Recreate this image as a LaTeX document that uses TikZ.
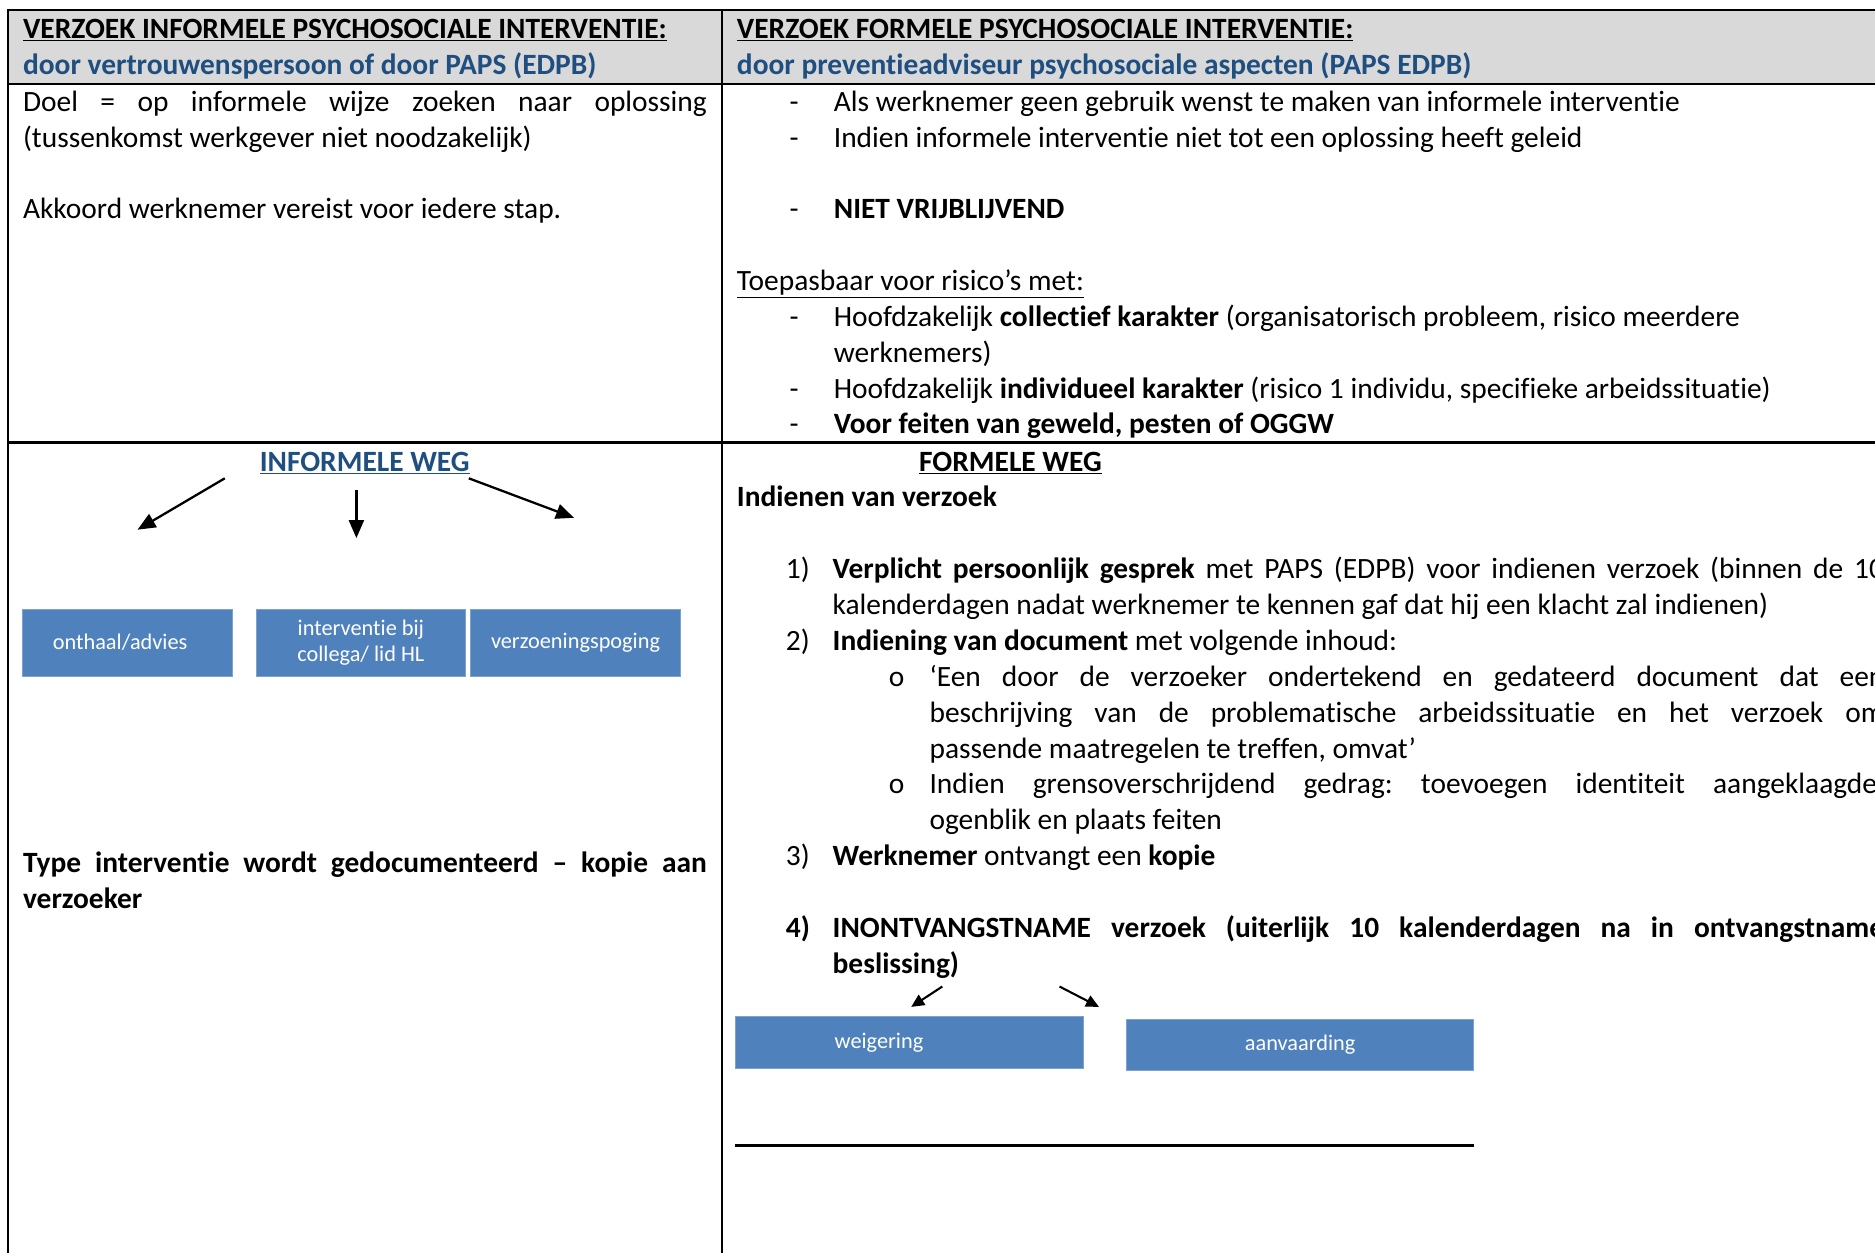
\documentclass[tikz,border=0pt]{standalone}
\usepackage{fontspec}
\setmainfont{Carlito}[Ligatures={TeX,NoCommon}]
\usetikzlibrary{arrows.meta}
\frenchspacing

\definecolor{kopgrijs}{RGB}{217,217,217}
\definecolor{kopblauw}{RGB}{31,78,128}
\definecolor{vakblauw}{RGB}{79,129,189}
\definecolor{vakrand}{RGB}{125,162,208}
\newcommand{\tekstfont}{\fontsize{16.75}{20}\selectfont}
\newcommand{\vakfont}{\fontsize{12.7}{15}\selectfont}

\begin{document}
\begin{tikzpicture}[x=0.02cm, y=-0.02cm,
  regel/.style={anchor=base west, inner sep=0pt, font=\tekstfont},
  midden/.style={anchor=base, inner sep=0pt, font=\tekstfont\bfseries},
  vak/.style={anchor=north west, fill=vakblauw, draw=vakrand, line width=0.4pt, text=white, font=\vakfont, align=center, inner sep=0pt},
  pijl/.style={-{Triangle[length=0.36cm, width=0.3cm]}, line width=1.3pt},
  pijltje/.style={-{Triangle[length=0.26cm, width=0.24cm]}, line width=1.2pt},
  rand/.style={line width=1.2pt}]
\useasboundingbox (0,0) rectangle (1875,1252);
\clip (0,0) rectangle (1875,1252);

% kop van de tabel
\fill[kopgrijs] (8.4,9.6) rectangle (1890,83.7);
\draw[rand] (1890,9.6) -- (8.4,9.6) -- (8.4,1270);
\draw[rand] (8.4,83.7) -- (1890,83.7);
\draw[rand] (8.4,442.5) -- (1890,442.5);
\draw[rand] (722.3,9.6) -- (722.3,1270);

\node[regel] (kopL1) at (22.7,38) {\bfseries\underline{VERZOEK INFORMELE PSYCHOSOCIALE INTERVENTIE:}};
\node[regel, text=kopblauw] (kopL2) at (22.7,74) {\bfseries door vertrouwenspersoon of door PAPS (EDPB)};
\node[regel] (kopR1) at (736.6,38) {\bfseries\underline{VERZOEK FORMELE PSYCHOSOCIALE INTERVENTIE:}};
\node[regel, text=kopblauw] (kopR2) at (736.6,74) {\bfseries door preventieadviseur psychosociale aspecten (PAPS EDPB)};

% eerste rij, links
\node[regel] (doel1) at (22.7,111) {\makebox[13.68cm][s]{Doel = op informele wijze zoeken naar oplossing}};
\node[regel] (doel2) at (22.7,147) {(tussenkomst werkgever niet noodzakelijk)};
\node[regel] (akkoord) at (22.7,218) {Akkoord werknemer vereist voor iedere stap.};

% eerste rij, rechts
\foreach \y in {111,147,218,326,398,433}
  \node[regel] at (789.2,\y) {-};
\node[regel] (als) at (833.5,111) {Als werknemer geen gebruik wenst te maken van informele interventie};
\node[regel] (indien) at (833.5,147) {Indien informele interventie niet tot een oplossing heeft geleid};
\node[regel] (niet) at (833.5,218) {\bfseries NIET VRIJBLIJVEND};
\node[regel] (toep) at (736.6,290) {\underline{Toepasbaar voor risico’s met:}};
\node[regel] (coll1) at (833.5,326) {Hoofdzakelijk \textbf{collectief karakter} (organisatorisch probleem, risico meerdere};
\node[regel] (coll2) at (833.5,362) {werknemers)};
\node[regel] (indiv) at (833.5,398) {Hoofdzakelijk \textbf{individueel karakter} (risico 1 individu, specifieke arbeidssituatie)};
\node[regel] (geweld) at (833.5,433) {\bfseries Voor feiten van geweld, pesten of OGGW};

% informele weg
\node[midden, text=kopblauw] (infweg) at (364.7,471) {\underline{INFORMELE WEG}};
\node[vak, minimum width=4.21cm, minimum height=1.338cm, text width=2.97cm, inner xsep=0.62cm, align=left] (onthaal) at (21.5,608.7) {onthaal/advies};
\node[vak, minimum width=4.186cm, minimum height=1.338cm] (collega) at (255.9,608.7) {interventie bij\\collega/ lid HL};
\node[vak, minimum width=4.208cm, minimum height=1.338cm] (verzoening) at (470,608.7) {verzoeningspoging};
\coordinate (a1) at (224.8,478.3);
\coordinate (b1) at (137.5,529.7);
\coordinate (a2) at (356.4,490.3);
\coordinate (b2) at (356.4,538.1);
\coordinate (a3) at (468.8,478.3);
\coordinate (b3) at (574,517.8);
\draw[pijl] (a1) -- (b1);
\draw[pijl] (a2) -- (b2);
\draw[pijl] (a3) -- (b3);
\node[regel] (type1) at (22.7,872) {\bfseries\makebox[13.68cm][s]{Type interventie wordt gedocumenteerd -- kopie aan}};
\node[regel] (type2) at (22.7,908) {\bfseries verzoeker};

% formele weg
\node[midden] (forweg) at (1010.5,471) {\underline{FORMELE WEG}};
\node[regel] (indienen) at (736.6,506) {\bfseries Indienen van verzoek};
\node[regel] at (785.6,578) {1)};
\node[regel] (stap1a) at (832.3,578) {\makebox[21.03cm][s]{\textbf{Verplicht persoonlijk gesprek} met PAPS (EDPB) voor indienen verzoek (binnen de 10}};
\node[regel] (stap1b) at (832.3,614) {kalenderdagen nadat werknemer te kennen gaf dat hij een klacht zal indienen)};
\node[regel] at (785.6,650) {2)};
\node[regel] (stap2) at (832.3,650) {\textbf{Indiening van document} met volgende inhoud:};
\node[regel] at (888.5,686) {o};
\node[regel] (doc1) at (929.2,686) {\makebox[19.1cm][s]{‘Een door de verzoeker ondertekend en gedateerd document dat een}};
\node[regel] (doc2) at (929.2,722) {\makebox[19.1cm][s]{beschrijving van de problematische arbeidssituatie en het verzoek om}};
\node[regel] (doc3) at (929.2,758) {passende maatregelen te treffen, omvat’};
\node[regel] at (888.5,793) {o};
\node[regel] (grens1) at (929.2,793) {\makebox[19.1cm][s]{Indien grensoverschrijdend gedrag: toevoegen identiteit aangeklaagde,}};
\node[regel] (grens2) at (929.2,829) {ogenblik en plaats feiten};
\node[regel] at (785.6,865) {3)};
\node[regel] (stap3) at (832.3,865) {\textbf{Werknemer} ontvangt een \textbf{kopie}};
\node[regel] at (785.6,937) {\bfseries 4)};
\node[regel] (stap4a) at (832.3,937) {\bfseries\makebox[21.03cm][s]{INONTVANGSTNAME verzoek (uiterlijk 10 kalenderdagen na in ontvangstname}};
\node[regel] (stap4b) at (832.3,973) {\bfseries beslissing)};
\node[vak, minimum width=6.96cm, minimum height=1.03cm, text width=3cm, inner xsep=1.98cm, align=left] (weigering) at (735.4,1016.4) {weigering};
\node[vak, minimum width=6.936cm, minimum height=1.03cm] (aanvaarding) at (1126.4,1018.8) {aanvaarding};
\coordinate (c1) at (942.3,986.5);
\coordinate (d1) at (911.2,1006.9);
\coordinate (c2) at (1059.5,986.5);
\coordinate (d2) at (1099,1006.9);
\draw[pijltje] (c1) -- (d1);
\draw[pijltje] (c2) -- (d2);
\draw[line width=1.3pt] (weigering.west |- 0,1145.6) -- (aanvaarding.east |- 0,1145.6);
\end{tikzpicture}
\end{document}
